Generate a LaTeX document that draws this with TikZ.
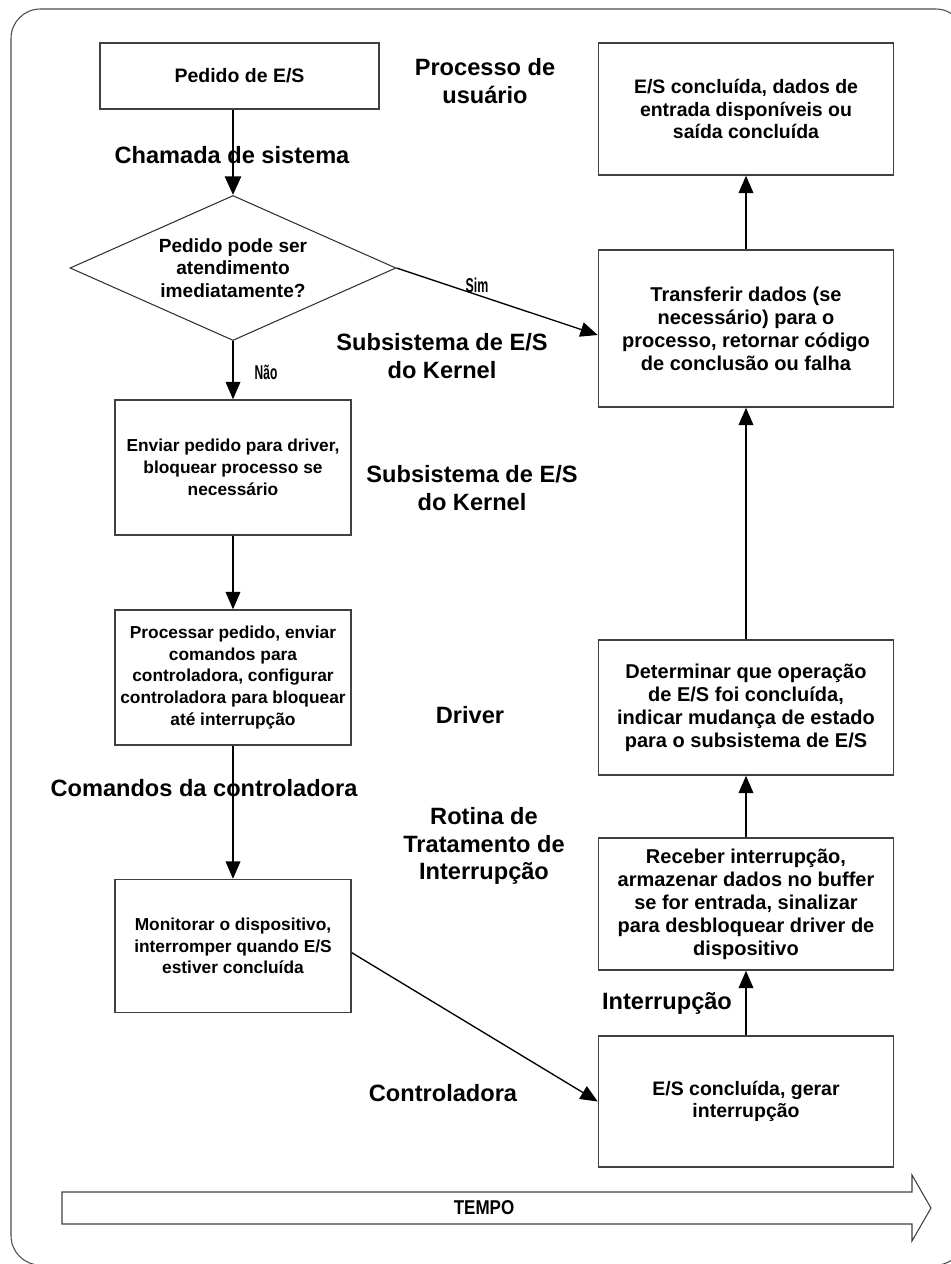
\documentclass[tikz,border=0pt]{standalone}
\usepackage{fontspec}
\setmainfont{Liberation Sans}
\usetikzlibrary{arrows.meta,shapes.geometric}
\begin{document}
\begin{tikzpicture}[x=0.75pt,y=-0.75pt,
  box/.style={draw=black!75,line width=1.1pt,fill=white,align=center,
    font=\fontsize{14.6}{16.6}\selectfont\bfseries,inner sep=0pt},
  lbox/.style={box,font=\fontsize{13}{16.3}\selectfont\bfseries},
  rbox/.style={box,font=\fontsize{15}{17.2}\selectfont\bfseries},
  sz/.style 2 args={minimum width={#1*0.75pt},minimum height={#2*0.75pt}},
  lbl/.style={align=center,font=\fontsize{17.7}{20.6}\selectfont\bfseries,inner sep=0pt},
  conn/.style={line width=1pt,-{Triangle[length=13pt,width=11pt]}},
  thickconn/.style={line width=2.2pt,-{Triangle[length=14pt,width=12pt]}}]
\useasboundingbox (0,0) rectangle (950,1264);
% outer frame
\draw[black!70,line width=0.8pt,rounded corners=22pt] (11,9) rectangle (965,1265);

% left column
\node[box,sz={279}{66}] (A) at (239.5,76) {Pedido de E/S};
\node[draw=black!80,line width=0.8pt,fill=white,shape=diamond,shape aspect=2.25,sz={326}{145},inner sep=0pt,align=center,
  font=\fontsize{14.3}{16.9}\selectfont\bfseries] (Q) at (233,268)
  {Pedido pode ser\\atendimento\\imediatamente?};
\node[lbox,sz={236}{135}] (D) at (233,467.5)
  {Enviar pedido para driver,\\bloquear processo se\\necessário};
\node[lbox,sz={236}{135}] (E) at (233,677.5)
  {Processar pedido, enviar\\comandos para\\controladora, configurar\\controladora para bloquear\\até interrupção};
\node[lbox,sz={236}{133}] (G) at (233,946)
  {Monitorar o dispositivo,\\interromper quando E/S\\estiver concluída};

% right column
\node[box,sz={295}{132}] (B) at (746,109)
  {E/S concluída, dados de\\entrada disponíveis ou\\saída concluída};
\node[rbox,sz={295}{157}] (C) at (746,328.5)
  {Transferir dados (se\\necessário) para o\\processo, retornar código\\de conclusão ou falha};
\node[rbox,sz={295}{135}] (F) at (746,707.5)
  {Determinar que operação\\de E/S foi concluída,\\indicar mudança de estado\\para o subsistema de E/S};
\node[rbox,sz={295}{132}] (H) at (746,904)
  {Receber interrupção,\\armazenar dados no buffer\\se for entrada, sinalizar\\para desbloquear driver de\\dispositivo};
\node[box,sz={295}{131}] (I) at (746,1101.5)
  {E/S concluída, gerar\\interrupção};

% labels
\node[lbl] (l1) at (485,81) {Processo de\\usuário};
\node[lbl] (l2) at (232,155) {Chamada de sistema};
\node[lbl] (l3) at (442,356) {Subsistema de E/S\\do Kernel};
\node[lbl] (l4) at (472,488) {Subsistema de E/S\\do Kernel};
\node[lbl] (l5) at (470,715) {Driver};
\node[lbl] (l6) at (204,788) {Comandos da controladora};
\node[lbl] (l7) at (484,846) {Rotina de\\Tratamento de\\Interrupção};
\node[lbl] (l8) at (667,1003) {Interrupção};
\node[lbl] (l9) at (443,1093) {Controladora};
\node[lbl,font=\fontsize{15}{17}\selectfont\bfseries] (ys) at (477,285) {\scalebox{0.62}[1]{Sim}};
\node[lbl,font=\fontsize{15}{17}\selectfont\bfseries] (no) at (266,372) {\scalebox{0.6}[1]{Não}};

% connectors
\draw[thickconn] (A.south -| Q.north) -- (Q.north);
\draw[conn] (Q.east) -- ([yshift=-4.9pt]C.west);
\draw[conn] (Q.south) -- (D.north);
\draw[conn] (D.south) -- (E.north);
\draw[conn] (E.south) -- (G.north);
\draw[conn] ([yshift=-5pt]G.east) -- ([yshift=0pt]I.west);
\draw[conn] (I.north) -- (H.south);
\draw[conn] (H.north) -- (F.south);
\draw[conn] (F.north) -- (C.south);
\draw[conn] (C.north) -- (B.south);

% time arrow
\draw[black!75,line width=0.8pt,fill=white] (62,1192) -- (912,1192) -- (912,1175) -- (931,1208)
  -- (912,1241) -- (912,1224) -- (62,1224) -- cycle;
\node[font=\fontsize{15}{17}\selectfont\bfseries] (tempo) at (484,1208) {\scalebox{0.85}[1]{TEMPO}};
\end{tikzpicture}
\end{document}
